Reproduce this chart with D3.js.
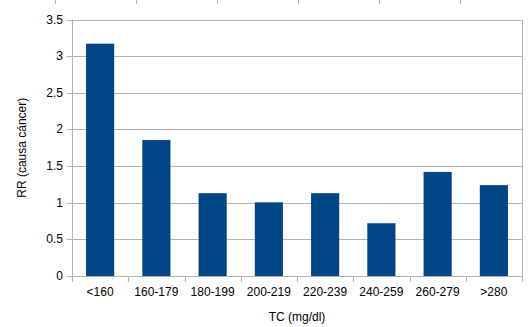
<!DOCTYPE html>
<html>
<head>
<meta charset="utf-8">
<script src="https://cdn.jsdelivr.net/npm/d3@7"></script>
<style>
  body { margin: 0; background: #fff; }
  text { font-family: "Liberation Sans", Arial, sans-serif; fill: #000; }
</style>
</head>
<body>
<script>
// chart data
var categories = ['<160', '160-179', '180-199', '200-219', '220-239', '240-259', '260-279', '>280'];
var rrValues = [3.17, 1.855, 1.13, 1.005, 1.13, 0.72, 1.42, 1.24];
var yTicks = [0, 0.5, 1, 1.5, 2, 2.5, 3, 3.5];

var width = 529, height = 327;
var plotLeft = 72, plotRight = 522, plotTop = 19.5, plotBottom = 276;

var svg = d3.select('body').append('svg')
  .attr('width', width)
  .attr('height', height);

var x = d3.scaleBand().domain(categories).range([plotLeft, plotRight]).paddingInner(0.5).paddingOuter(0.25);
var xEdge = d3.scaleLinear().domain([0, categories.length]).range([plotLeft, plotRight]);
var y = d3.scaleLinear().domain([0, 3.5]).range([plotBottom, plotTop]);

// stray ticks at top (from chart above)
svg.selectAll('.topTick')
  .data(d3.range(6))
  .enter().append('line')
  .attr('x1', function(d) { return 55.5 + d * 81; })
  .attr('x2', function(d) { return 55.5 + d * 81; })
  .attr('y1', 0).attr('y2', 4)
  .attr('stroke', '#b3b3b3');

// gridlines
svg.selectAll('.grid')
  .data(yTicks.slice(1))
  .enter().append('line')
  .attr('x1', plotLeft).attr('x2', plotRight)
  .attr('y1', function(d) { return Math.round(y(d)) + 0.5; })
  .attr('y2', function(d) { return Math.round(y(d)) + 0.5; })
  .attr('stroke', '#b3b3b3');

// right border
svg.append('line')
  .attr('x1', plotRight + 0.5).attr('x2', plotRight + 0.5)
  .attr('y1', plotTop).attr('y2', plotBottom)
  .attr('stroke', '#b3b3b3');

// bars
svg.selectAll('.bar')
  .data(rrValues)
  .enter().append('rect')
  .attr('x', function(d, i) { return x(categories[i]); })
  .attr('y', function(d) { return y(d); })
  .attr('width', x.bandwidth())
  .attr('height', function(d) { return plotBottom - y(d); })
  .attr('fill', '#004586');

// y axis
svg.append('line')
  .attr('x1', plotLeft + 0.5).attr('x2', plotLeft + 0.5)
  .attr('y1', plotTop).attr('y2', plotBottom + 6)
  .attr('stroke', '#b3b3b3');
svg.selectAll('.yTick')
  .data(yTicks)
  .enter().append('line')
  .attr('x1', plotLeft - 5).attr('x2', plotLeft)
  .attr('y1', function(d) { return Math.round(y(d)) + 0.5; })
  .attr('y2', function(d) { return Math.round(y(d)) + 0.5; })
  .attr('stroke', '#b3b3b3');
svg.selectAll('.yLabel')
  .data(yTicks)
  .enter().append('text')
  .attr('x', 63)
  .attr('y', function(d) { return y(d) + 4; })
  .attr('text-anchor', 'end')
  .style('font-size', '12px')
  .text(function(d) { return d; });

// x axis
svg.append('line')
  .attr('x1', plotLeft).attr('x2', plotRight + 1)
  .attr('y1', plotBottom + 0.5).attr('y2', plotBottom + 0.5)
  .attr('stroke', '#b3b3b3');
svg.selectAll('.xTick')
  .data(d3.range(categories.length + 1))
  .enter().append('line')
  .attr('x1', function(d) { return Math.round(xEdge(d)) + 0.5; })
  .attr('x2', function(d) { return Math.round(xEdge(d)) + 0.5; })
  .attr('y1', plotBottom).attr('y2', plotBottom + 6)
  .attr('stroke', '#b3b3b3');
svg.selectAll('.xLabel')
  .data(categories)
  .enter().append('text')
  .attr('x', function(d) { return x(d) + x.bandwidth() / 2; })
  .attr('y', 296)
  .attr('text-anchor', 'middle')
  .style('font-size', '12px')
  .text(function(d) { return d; });

// titles
svg.append('text')
  .attr('x', (plotLeft + plotRight) / 2)
  .attr('y', 321)
  .attr('text-anchor', 'middle')
  .style('font-size', '12px')
  .text('TC (mg/dl)');

svg.append('text')
  .attr('transform', 'translate(26,' + (plotTop + plotBottom) / 2 + ') rotate(-90)')
  .attr('text-anchor', 'middle')
  .style('font-size', '12px')
  .text('RR (causa cáncer)');
</script>
</body>
</html>
